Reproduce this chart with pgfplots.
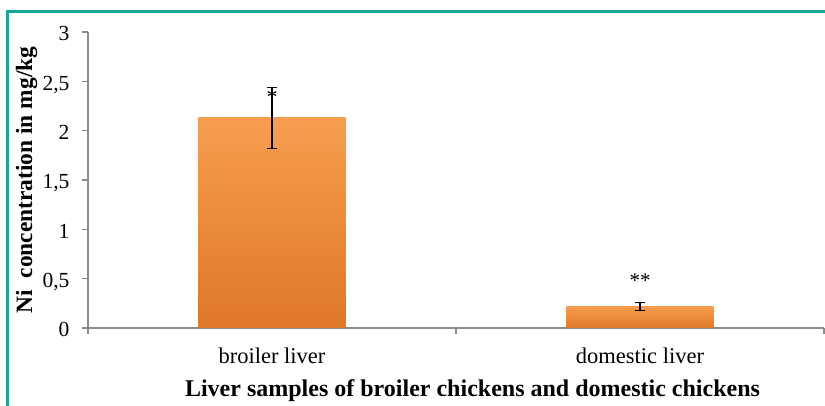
\documentclass[border=0pt]{standalone}
\usepackage{fontspec}
\setmainfont{Liberation Serif}
\usepackage{pgfplots}
\pgfplotsset{compat=1.18}

\definecolor{frameteal}{RGB}{20,168,148}
\definecolor{axisgray}{RGB}{140,140,140}
\definecolor{bartop}{RGB}{247,158,78}
\definecolor{barbot}{RGB}{223,120,40}

\begin{document}
\begin{tikzpicture}[x=1pt,y=1pt]
\path[use as bounding box] (0,0) rectangle (825,406);

% frame on the top and left edges
\draw[frameteal, line width=2.6pt, line join=miter] (7.3,0) -- (7.3,394.7) -- (825,394.7);

\begin{axis}[
  at={(88pt,78pt)}, anchor=south west,
  scale only axis, width=736pt, height=296pt,
  xmin=-0.5, xmax=1.5, ymin=0, ymax=3,
  axis lines=left,
  axis line style={-, axisgray, line width=1.2pt},
  tick align=outside,
  major tick length=6pt,
  tick style={axisgray, line width=1.2pt},
  ytick={0,0.5,1,1.5,2,2.5,3},
  yticklabels={0,{0,5},1,{1,5},2,{2,5},3},
  yticklabel style={font=\fontsize{21.5}{24}\selectfont, anchor=base east, xshift=-9pt, yshift=-9pt},
  xtick={0,1},
  xticklabels={broiler liver, domestic liver},
  major x tick style={draw=none},
  xticklabel style={font=\fontsize{22.5}{26}\selectfont, anchor=base, yshift=-30pt},
  extra x ticks={-0.5,0.5,1.5},
  extra x tick labels={},
  extra x tick style={major x tick style={draw=axisgray, line width=1.2pt}},
  clip=false,
]

% bars, one plot each so every bar carries its own gradient
\addplot[ybar, bar width=0.4, bar shift=0pt, draw=none,
  top color=bartop, bottom color=barbot]
  coordinates {(0,2.13)};
\addplot[ybar, bar width=0.4, bar shift=0pt, draw=none,
  top color=bartop, bottom color=barbot]
  coordinates {(1,0.22)};

% standard deviations
\addplot[draw=none, mark=none,
  error bars/.cd, y dir=both, y explicit,
  error bar style={draw=black, line width=1.3pt},
  error mark options={draw=black, rotate=90, mark size=5pt, line width=1.3pt}]
  coordinates {(0,2.13) +- (0,0.31) (1,0.22) +- (0,0.04)};

% significance marks
\node[anchor=base, font=\fontsize{22}{24}\selectfont] at (axis cs:0,2.27) {*};
\node[anchor=base, font=\fontsize{21}{24}\selectfont] at (axis cs:1,0.41) {**};
\end{axis}

\node[rotate=90, font=\bfseries\fontsize{23.4}{26}\selectfont] at (26.5,226) {Ni\ \ concentration in mg/kg};
\node[anchor=base, font=\bfseries\fontsize{24}{28}\selectfont] at (472.5,9.3) {Liver samples of broiler chickens and domestic chickens};
\end{tikzpicture}
\end{document}
